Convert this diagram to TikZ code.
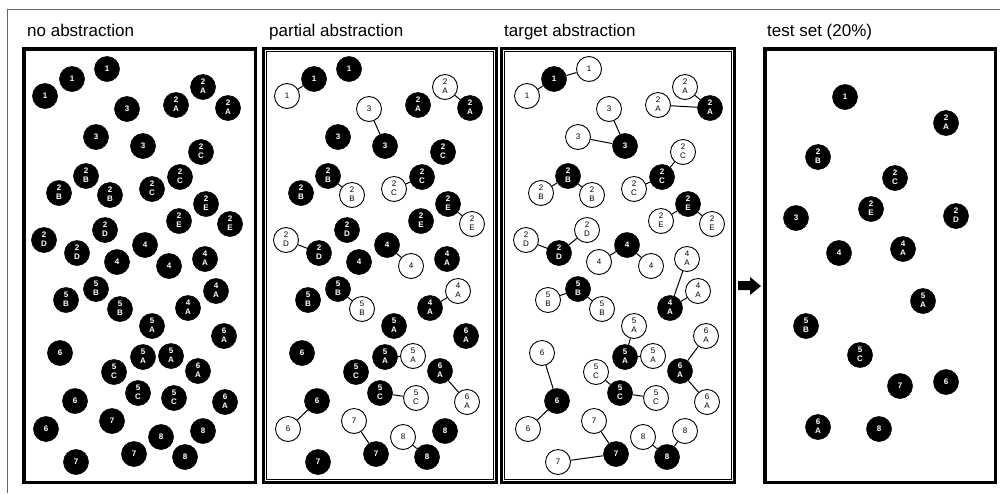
\documentclass[tikz,border=0pt]{standalone}
\usepackage{fontspec}
\setmainfont{Liberation Sans}
\newcommand\lbl[2]{\begin{tabular}{@{}c@{}}#1\\#2\end{tabular}}
\tikzset{
  cn/.style={circle, minimum size=25pt, inner sep=0pt},
  bn/.style={cn, fill=black, draw=black, line width=0.6pt, text=white, font=\fontsize{8}{9.5}\selectfont\bfseries},
  wn/.style={cn, fill=white, draw=black, line width=0.9pt, text=black, font=\fontsize{8}{9.5}\selectfont},
  link/.style={line width=1pt},
  frame/.style={line width=3.5pt},
  dframe/.style={line width=3pt},
  title/.style={anchor=base west, inner sep=0pt, font=\fontsize{17}{17}\selectfont},
  P2-1a/.style=wn, P2-3a/.style=wn, P2-2Ab/.style=wn, P2-2Cc/.style=wn,
  P2-2Bc/.style=wn, P2-2Ec/.style=wn, P2-2Db/.style=wn, P2-4c/.style=wn,
  P2-4Ab/.style=wn, P2-5Bc/.style=wn, P2-5Ac/.style=wn, P2-5Cc/.style=wn,
  P2-6c/.style=wn, P2-6Ac/.style=wn, P2-7a/.style=wn, P2-8a/.style=wn,
  P3-1b/.style=bn, P3-2Ac/.style=bn, P3-3c/.style=bn, P3-2Cb/.style=bn,
  P3-2Ba/.style=bn, P3-2Ea/.style=bn, P3-2Dc/.style=bn, P3-4a/.style=bn,
  P3-4Ac/.style=bn, P3-5Ba/.style=bn, P3-5Ab/.style=bn, P3-6Ab/.style=bn,
  P3-6b/.style=bn, P3-5Cb/.style=bn, P3-7b/.style=bn, P3-8c/.style=bn
}
\def\layout{1a/45/96/1, 1b/72/79/1, 1c/107/69/1, 3a/127/109/3,
 2Aa/176/105/\lbl{2}{A}, 2Ab/203/87/\lbl{2}{A}, 2Ac/228/108/\lbl{2}{A},
 3b/96/137/3, 3c/143/146/3, 2Ca/201/152/\lbl{2}{C}, 2Ba/86/176/\lbl{2}{B},
 2Cb/180/177/\lbl{2}{C}, 2Bb/59/193/\lbl{2}{B}, 2Cc/152/189/\lbl{2}{C},
 2Bc/110/195/\lbl{2}{B}, 2Ea/206/204/\lbl{2}{E}, 2Eb/179/221/\lbl{2}{E},
 2Ec/230/224/\lbl{2}{E}, 2Da/105/230/\lbl{2}{D}, 2Db/44/240/\lbl{2}{D},
 4a/145/245/4, 2Dc/77/253/\lbl{2}{D}, 4b/117/262/4, 4c/169/266/4,
 4Aa/205/259/\lbl{4}{A}, 5Ba/96/289/\lbl{5}{B}, 5Bb/66/300/\lbl{5}{B},
 4Ab/216/291/\lbl{4}{A}, 5Bc/120/309/\lbl{5}{B}, 4Ac/188/308/\lbl{4}{A},
 5Aa/152/326/\lbl{5}{A}, 6Aa/224/336/\lbl{6}{A}, 6a/60/353/6,
 5Ab/143/357/\lbl{5}{A}, 5Ac/171/356/\lbl{5}{A}, 5Ca/114/372/\lbl{5}{C},
 6Ab/198/371/\lbl{6}{A}, 5Cb/138/393/\lbl{5}{C}, 5Cc/174/398/\lbl{5}{C},
 6b/75/401/6, 6Ac/225/402/\lbl{6}{A}, 7a/112/421/7, 6c/46/429/6,
 8a/161/437/8, 8b/203/431/8, 7b/134/454/7, 8c/185/457/8, 7c/76/462/7}
\begin{document}
\begin{tikzpicture}[x=1pt, y=-1pt]
\useasboundingbox (0,0) rectangle (1000,493);
% outer thin border
\draw[black!60, line width=1pt] (7,493) -- (7,9) -- (1000,9);
% titles
\node[title] (t1) at (27,36) {no abstraction};
\node[title] (t2) at (269,36) {partial abstraction};
\node[title] (t3) at (504,36) {target abstraction};
\node[title] (t4) at (767,36) {test set (20\%)};
% frames
\draw[frame] (23.75,48.75) rectangle (255.25,482.25);
\draw[dframe] (263.5,48.5) rectangle (496.5,482.5);
\draw[line width=0.8pt] (266.5,51.5) rectangle (493.5,479.5);
\draw[dframe] (501.5,48.5) rectangle (734.5,482.5);
\draw[line width=0.8pt] (504.5,51.5) rectangle (731.5,479.5);
\draw[frame] (764.75,48.75) rectangle (995.25,482.25);
% block arrow
\fill[black] (738,281) -- (750,281) -- (750,277) -- (761,286) -- (750,295) -- (750,290) -- (738,290) -- cycle;
% circles
\foreach \n/\x/\y/\t in \layout {
  \node[bn] (P1-\n) at (\x,\y) {\t};
  \node[bn, P2-\n/.try] (P2-\n) at (\x+242,\y) {\t};
  \node[wn, P3-\n/.try] (P3-\n) at (\x+482,\y) {\t};
}
% links panel 2
\foreach \a/\b in {1a/1b, 2Ab/2Ac, 3a/3c, 2Ba/2Bc, 2Cc/2Cb, 2Ea/2Ec, 2Db/2Dc,
  4a/4c, 5Ba/5Bc, 4Ac/4Ab, 5Ab/5Ac, 6Ab/6Ac, 5Cb/5Cc, 6b/6c, 7a/7b, 8a/8c}
  \draw[link] (P2-\a) -- (P2-\b);
% links panel 3
\foreach \a/\b in {1a/1b, 1b/1c, 2Ab/2Ac, 2Aa/2Ac, 3a/3c, 3b/3c, 2Cc/2Cb, 2Cb/2Ca,
  2Bb/2Ba, 2Ba/2Bc, 2Eb/2Ea, 2Ea/2Ec, 2Db/2Dc, 2Dc/2Da, 4b/4a, 4a/4c,
  4Ac/4Aa, 4Ac/4Ab, 5Bb/5Ba, 5Ba/5Bc, 5Ab/5Aa, 5Ab/5Ac, 6Ab/6Aa, 6Ab/6Ac,
  6a/6b, 6b/6c, 5Ca/5Cb, 5Cb/5Cc, 7a/7b, 7c/7b, 8a/8c, 8b/8c}
  \draw[link] (P3-\a) -- (P3-\b);
% test set
\foreach \n/\x/\y/\t in {1/845/97/1, 2A/946/123/\lbl{2}{A}, 2B/818/157/\lbl{2}{B},
  2C/895/178/\lbl{2}{C}, 2E/871/209/\lbl{2}{E}, 3/796/218/3, 2D/956/216/\lbl{2}{D},
  4/839/253/4, 4A/903/249/\lbl{4}{A}, 5A/923/301/\lbl{5}{A}, 5B/806/326/\lbl{5}{B},
  5C/860/355/\lbl{5}{C}, 7/900/386/7, 6/946/382/6, 6A/818/427/\lbl{6}{A}, 8/879/429/8}
  \node[bn] (T-\n) at (\x,\y) {\t};
\end{tikzpicture}
\end{document}
